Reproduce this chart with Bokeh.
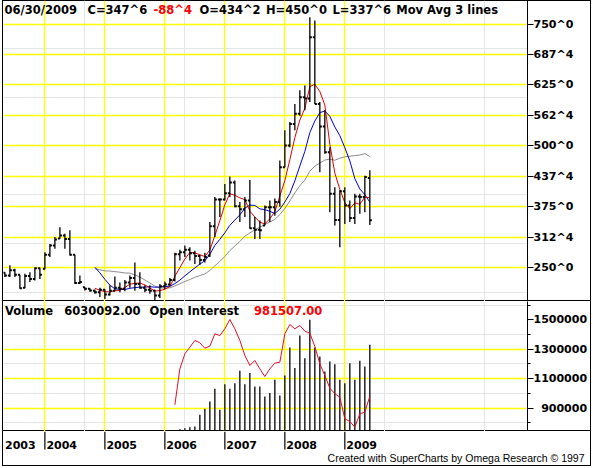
from bokeh.plotting import figure
from bokeh.layouts import column
from bokeh.models import (Range1d, LinearAxis, FixedTicker, Grid, Label, LabelSet, ColumnDataSource)
from bokeh.core.properties import value
from bokeh.embed import file_html
from bokeh.resources import INLINE

# ---------------- data (monthly bars) ----------------
first_bar = "2003-05"
open_ = [240, 234, 245, 236, 209, 233, 227, 249, 248, 277, 296, 310, 316, 309, 277, 219, 210, 207, 203,
         200, 205, 195, 203, 209, 207, 220, 229, 217, 209, 205, 203, 193, 212, 216, 225, 278, 282, 287,
         280, 274, 266, 275, 335, 390, 390, 403, 425, 376, 370, 388, 331, 328, 337, 374, 374, 385, 456,
         501, 545, 566, 600, 597, 723, 586, 540, 487, 402, 348, 407, 378, 352, 396, 395, 434.25]
high = [241, 255, 248, 236, 238, 241, 251, 250, 282, 299, 313, 333, 320, 327, 277, 234, 210, 208, 205.5,
        209, 206, 214, 232, 220, 225, 234, 261, 241, 214, 214, 205, 217, 222, 229, 281, 287, 296, 292,
        285, 277, 281, 344, 395, 392, 422, 437, 429, 385, 395, 430, 354, 347, 378, 388, 392, 470, 532,
        549, 586, 614, 624, 764, 757, 590, 573, 497, 415, 409, 415, 388, 402, 402, 439, 450]
low = [231, 231, 231, 207, 208, 221, 224, 227, 247, 272, 289, 309, 289, 275, 217, 217, 203.5, 201, 197,
       190, 186, 193, 202, 200, 202, 209, 203, 207, 200, 197, 184, 188, 206, 212, 222, 265, 272, 265,
       258, 256, 261, 272, 313, 354, 388, 395, 374, 344, 354, 330, 309, 309, 337, 344, 357, 375, 456,
       497, 532, 562, 573, 590, 586, 446, 484, 364, 337, 292, 340, 344, 340, 361, 364, 337.75]
close = [234, 245, 236, 208, 233, 227, 249, 236, 277, 296, 308, 316, 309, 277, 219, 221, 207, 203.5, 200,
         205, 195, 203, 209, 207, 220, 229, 217, 209, 205, 203, 193, 212, 216, 225, 278, 282, 287, 280,
         274, 266, 272, 335, 390, 390, 403, 425, 376, 370, 388, 331, 328, 327, 374, 374, 385, 456, 501,
         545, 566, 600, 597, 723, 586, 540, 487, 402, 348, 407, 378, 352, 396, 395, 436.25, 347.75]

# moving-average lines, first point Nov 2004
first_ma_point = "2004-11"
ma_red = [207.9, 203.9, 200.9, 200.75, 203, 203.5, 209.75, 216.25, 218.25, 218.75, 215, 208.5, 202.5,
          203.25, 206, 211.5, 232.75, 250.25, 268, 281.75, 280.75, 276.75, 273, 286.75, 315.75, 346.75,
          379.5, 402, 398.5, 393.5, 389.75, 366.25, 354.25, 343.5, 340, 350.75, 365, 397.25, 429, 471.75,
          517, 553, 577, 621.5, 626.5, 611.5, 584, 503.75, 444.25, 411, 383.75, 371.25, 383.25, 380.25,
          394.8, 393.75]
ma_blue = [251.2, 239.7, 226.3, 214.5, 206.9, 205.6, 205.5, 207.9, 209.4, 210.4, 210.4, 211.3, 210.2,
           210.6, 211.6, 212.1, 217.6, 224.8, 233.4, 241.8, 249.7, 257.8, 264.4, 277.7, 296, 308.4, 321.9,
           337.2, 347.9, 358.6, 372.1, 378.7, 377.9, 370.9, 369.1, 365.9, 361.4, 370.3, 384.9, 402.3,
           428.4, 458.7, 488.7, 527.4, 551, 568.2, 571.7, 560.7, 538.8, 521.1, 496.4, 469.2, 432.9, 411.7,
           400.1, 384.7]
ma_gray = [248.2, 246.0, 243.7, 243.4, 242.1, 241.0, 239.4, 239.0, 235.6, 230.8, 225.1, 218.8, 212.4,
           208.75, 208.6, 208.8, 212.75, 217.1, 221.9, 226.1, 230.5, 234, 237.5, 244.6, 254.1, 263, 273.3,
           285.3, 294.8, 304.1, 314.9, 321.6, 327.8, 333.4, 338.8, 343.9, 349.3, 359.1, 371.7, 387.2,
           403.6, 418.3, 429.8, 448.3, 458.4, 464.8, 471, 472.8, 470.6, 474.8, 477.6, 478.9, 480.2, 481.3,
           484.2, 478.2]

first_volume_bar = "2006-04"
volume = [162000, 232000, 301000, 348000, 1160000, 1580000, 2090000, 2970000, 1510000, 3290000,
          2970000, 3360000, 4220000, 3290000, 4060000, 3130000, 3130000, 2430000, 2670000, 3590000,
          2500000, 3900000, 5840000, 4410000, 6680000, 5100000, 7770000, 5840000, 5220000, 4170000,
          4870000, 4680000, 3590000, 3360000, 4750000, 3590000, 4920000, 4520000, 6030092]
first_oi_point = "2006-03"
open_interest = [922800, 1167000, 1269000, 1314000, 1360000, 1344000, 1307000, 1321000, 1405000, 1393000,
                 1439000, 1502000, 1439000, 1360000, 1258000, 1190000, 1224000, 1167000, 1115000, 1167000,
                 1206000, 1212000, 1405000, 1468000, 1439000, 1461000, 1423000, 1409000, 1319000, 1201000,
                 1122000, 1036000, 998000, 975000, 828000, 810000, 771000, 862000, 873000, 981507]

price_ticks = [250, 312.5, 375, 437.5, 500, 562.5, 625, 687.5, 750]
price_tick_labels = ["250^0", "312^4", "375^0", "437^4", "500^0", "562^4", "625^0", "687^4", "750^0"]
oi_ticks = [900000, 1100000, 1300000, 1500000]
oi_tick_labels = ["\u2007900000", "1100000", "1300000", "1500000"]
oi_minor_ticks = [800000, 1000000, 1200000, 1400000, 1600000]
oi_grid_ticks = [900000, 1100000, 1300000]
years = [2004, 2005, 2006, 2007, 2008, 2009]
first_year_label = "2003"

header_parts = ["06/30/2009", "C=347^6", "-88^4", "O=434^2", "H=450^0", "L=337^6", "Mov Avg 3 lines"]
header_colors = ["black", "black", "#ff0000", "black", "black", "black", "black"]
volume_parts = ["Volume", "6030092.00", "Open Interest", "981507.00"]
volume_colors = ["black", "black", "black", "#ff0000"]
credit_text = "Created with SuperCharts by Omega Research \u00a9 1997"


# ---------------- derived ----------------
def month_index(start, n):
    y, m = map(int, start.split("-"))
    base = (y - 2003) * 12 + (m - 1)
    return [base + i for i in range(n)]


xs = month_index(first_bar, len(close))
half = 0.4
src = ColumnDataSource(dict(x=xs, xl=[v - half for v in xs], xr=[v + half for v in xs],
                            o=open_, h=high, l=low, c=close))
msrc = ColumnDataSource(dict(x=month_index(first_ma_point, len(ma_red)), red=ma_red, blue=ma_blue, gray=ma_gray))
vsrc = ColumnDataSource(dict(x=month_index(first_volume_bar, len(volume)), v=volume, z=[0] * len(volume)))
osrc = ColumnDataSource(dict(x=month_index(first_oi_point, len(open_interest)), oi=open_interest))
year_x = [(y - 2003) * 12 for y in years]

W = 591
LEFT = 3
RIGHT = 64
FRAME_W = W - LEFT - RIGHT
FONT = "DejaVu Sans"
YELLOW = "#ffff00"
X0, X1 = 3.72, 108.54
PX = FRAME_W / (X1 - X0)          # pixels per month
x_range = Range1d(X0, X1)

LEFT_LINE = "inset 2px 0 0 white, inset 3px 0 0 black"


def common(fig, left=LEFT):
    fig.outline_line_color = None
    fig.background_fill_color = None
    fig.border_fill_color = None
    fig.min_border_left = left


# ---------------- price panel ----------------
p1 = figure(width=W, height=301, x_range=x_range, y_range=Range1d(180.9, 798.2),
            x_axis_location=None, y_axis_location=None, output_backend="svg", toolbar_location=None,
            min_border_right=RIGHT, min_border_top=0, min_border_bottom=0,
            styles={"box-shadow": LEFT_LINE + ", inset 0 1px 0 black, inset 0 -1px 0 black, inset -1px 0 0 black"})
common(p1)
p1.add_layout(Grid(dimension=0, ticker=FixedTicker(ticks=year_x), grid_line_color=YELLOW, grid_line_width=1.3))
p1.add_layout(Grid(dimension=1, ticker=FixedTicker(ticks=price_ticks), grid_line_color=YELLOW, grid_line_width=1.3))

pax = LinearAxis(ticker=FixedTicker(ticks=price_ticks, minor_ticks=[]),
                 major_label_overrides=dict(zip(price_ticks, price_tick_labels)),
                 major_tick_out=6, major_tick_in=0, minor_tick_out=0, minor_tick_in=0,
                 major_label_standoff=0, axis_line_color="black", major_tick_line_color="black",
                 major_label_text_font=FONT, major_label_text_font_size="11px",
                 major_label_text_font_style="bold", major_label_text_color="black")
p1.add_layout(pax, "right")

p1.line("x", "gray", source=msrc, line_color="#8c8c8c", line_width=1)
p1.line("x", "blue", source=msrc, line_color="#0000c8", line_width=1)
p1.line("x", "red", source=msrc, line_color="#e00000", line_width=1)
p1.segment(x0="x", y0="l", x1="x", y1="h", source=src, line_color="black", line_width=1.3)
p1.segment(x0="xl", y0="o", x1="x", y1="o", source=src, line_color="black", line_width=2)
p1.segment(x0="x", y0="c", x1="xr", y1="c", source=src, line_color="black", line_width=2)

header_x = [1, 84, 150, 196, 262.5, 329, 392.7]
for t, c, xx in zip(header_parts, header_colors, header_x):
    p1.add_layout(Label(x=xx, y=292, x_units="screen", y_units="screen", text=t, text_color=c,
                        text_font=FONT, text_font_size="11.5px", text_font_style="bold",
                        text_baseline="middle", text_align="left"))

# ---------------- volume / open interest panel ----------------
p2 = figure(width=W, height=130, x_range=x_range, y_range=Range1d(741850, 1624200),
            x_axis_location=None, y_axis_location=None, output_backend="svg", toolbar_location=None,
            min_border_right=RIGHT, min_border_top=0, min_border_bottom=0,
            styles={"box-shadow": LEFT_LINE + ", inset 0 -1px 0 black, inset -1px 0 0 black"})
common(p2)
p2.extra_y_ranges = {"vol": Range1d(0, 9040000)}
p2.add_layout(Grid(dimension=0, ticker=FixedTicker(ticks=year_x), grid_line_color=YELLOW, grid_line_width=1.3))
p2.add_layout(Grid(dimension=1, ticker=FixedTicker(ticks=oi_grid_ticks), grid_line_color=YELLOW, grid_line_width=1.3))

vax = LinearAxis(ticker=FixedTicker(ticks=oi_ticks, minor_ticks=oi_minor_ticks),
                 major_label_overrides=dict(zip(oi_ticks, oi_tick_labels)),
                 major_tick_out=6, major_tick_in=0, minor_tick_out=3, minor_tick_in=0,
                 major_label_standoff=0, axis_line_color="black",
                 major_label_text_font=FONT, major_label_text_font_size="11px",
                 major_label_text_font_style="bold", major_label_text_color="black")
p2.add_layout(vax, "right")

p2.segment(x0="x", y0="z", x1="x", y1="v", source=vsrc, y_range_name="vol", line_color="black", line_width=1.3)
p2.line("x", "oi", source=osrc, line_color="#e0102a", line_width=1)

vol_x = [1.5, 60.7, 146, 250.4]
for t, c, xx in zip(volume_parts, volume_colors, vol_x):
    p2.add_layout(Label(x=xx, y=121, x_units="screen", y_units="screen", text=t, text_color=c,
                        text_font=FONT, text_font_size="11.5px", text_font_style="bold",
                        text_baseline="middle", text_align="left"))

# ---------------- date strip (y in pixels below the date line) ----------------
S0 = X0 - LEFT / PX
S1 = X1 + RIGHT / PX
p3 = figure(width=W, height=35, x_range=Range1d(S0, S1), y_range=Range1d(-35, 0),
            x_axis_location=None, y_axis_location=None, output_backend="svg", toolbar_location=None,
            min_border_right=0, min_border_top=0, min_border_bottom=0,
            styles={"box-shadow": LEFT_LINE + ", inset 0 -1px 0 black, inset -1px 0 0 black"})
common(p3, left=0)
if "frame_align" in p3.properties():
    p3.frame_align = False
p3.grid.visible = False

tsrc = ColumnDataSource(dict(x=year_x, top=[0] * len(year_x), bot=[-18] * len(year_x)))
p3.segment(x0="x", y0="top", x1="x", y1="bot", source=tsrc, line_color="black", line_width=1.2)

label_x = [S0 + 4.5 / PX] + [v + 1.5 / PX for v in year_x]
label_t = [first_year_label] + [str(y) for y in years]
ysrc = ColumnDataSource(dict(x=label_x, y=[-13.5] * len(label_x), t=label_t))
p3.add_layout(LabelSet(x="x", y="y", text="t", source=ysrc,
                       text_font=value(FONT), text_font_size=value("11px"), text_font_style="bold",
                       text_baseline="middle", text_align="left", text_color="black"))
p3.add_layout(Label(x=S0 + 584 / PX, y=-26.5, text=credit_text,
                    text_font="Liberation Sans", text_font_size="10.5px", text_baseline="middle",
                    text_align="right", text_color="black"))

layout = column(p1, p2, p3, spacing=0)
open("out.html", "w").write(file_html(layout, INLINE))
